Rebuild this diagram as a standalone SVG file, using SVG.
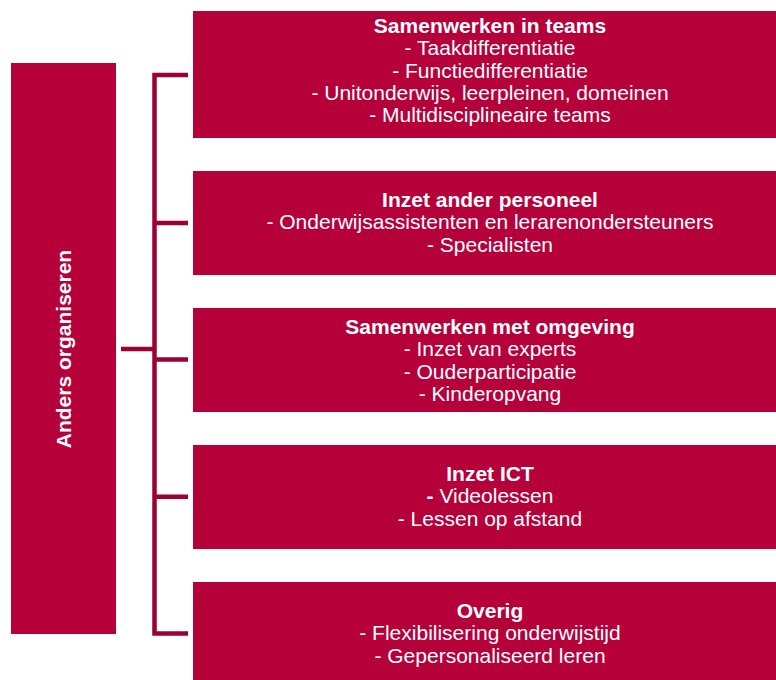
<svg xmlns="http://www.w3.org/2000/svg" width="776" height="680" viewBox="0 0 776 680">
<style>
.box{fill:#B6003A;}
.con{stroke:#9C0034;stroke-width:4.5;fill:none;stroke-linecap:butt;}
text{font-family:"Liberation Sans",Arial,sans-serif;font-size:21px;fill:#FFFFFF;text-anchor:middle;}
.t{font-weight:bold;}
</style>
<rect width="776" height="680" fill="#FFFFFF"/>
<g id="connectors">
<path class="con" d="M188,75 H154.5 V633.5 H188"/>
<path class="con" d="M121,349 H154.5"/>
<path class="con" d="M154.5,223 H188 M154.5,359.5 H188 M154.5,496.7 H188"/>
</g>
<g id="root">
<rect class="box" x="11" y="63" width="105" height="571"/>
<text class="t" transform="translate(70.5,349) rotate(-90)">Anders organiseren</text>
</g>
<g id="node1">
<rect class="box" x="193" y="11" width="583" height="127"/>
<text class="t" x="490" y="33">Samenwerken in teams</text>
<text x="490" y="55.3">- Taakdifferentiatie</text>
<text x="490" y="77.6">- Functiedifferentiatie</text>
<text x="490" y="99.9">- Unitonderwijs, leerpleinen, domeinen</text>
<text x="490" y="122.2">- Multidisciplineaire teams</text>
</g>
<g id="node2">
<rect class="box" x="193" y="171" width="583" height="104"/>
<text class="t" x="490" y="207">Inzet ander personeel</text>
<text x="490" y="229.3">- Onderwijsassistenten en lerarenondersteuners</text>
<text x="490" y="251.6">- Specialisten</text>
</g>
<g id="node3">
<rect class="box" x="193" y="308" width="583" height="104"/>
<text class="t" x="490" y="334">Samenwerken met omgeving</text>
<text x="490" y="356.3">- Inzet van experts</text>
<text x="490" y="378.6">- Ouderparticipatie</text>
<text x="490" y="400.9">- Kinderopvang</text>
</g>
<g id="node4">
<rect class="box" x="193" y="445" width="583" height="104"/>
<text class="t" x="490" y="481">Inzet ICT</text>
<text x="490" y="503.3"><tspan class="t">-</tspan> Videolessen</text>
<text x="490" y="525.6">- Lessen op afstand</text>
</g>
<g id="node5">
<rect class="box" x="193" y="582" width="583" height="98"/>
<text class="t" x="490" y="618">Overig</text>
<text x="490" y="640.3">- Flexibilisering onderwijstijd</text>
<text x="490" y="662.6">- Gepersonaliseerd leren</text>
</g>
</svg>
